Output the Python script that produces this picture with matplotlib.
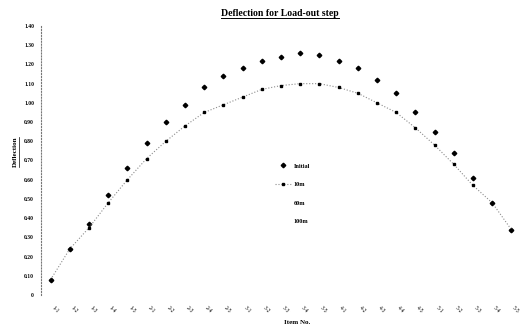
import numpy as np
import matplotlib
matplotlib.use("Agg")
import matplotlib.pyplot as plt
from matplotlib.lines import Line2D

# data
items = [f"{r}-{c}" for r in range(1, 6) for c in range(1, 6)]
initial = [0.08, 0.24, 0.37, 0.52, 0.66, 0.79, 0.90, 0.99, 1.08, 1.14, 1.18, 1.22, 1.24,
           1.26, 1.25, 1.22, 1.18, 1.12, 1.05, 0.95, 0.85, 0.74, 0.61, 0.48, 0.34]
ten_m = [0.08, 0.24, 0.35, 0.48, 0.60, 0.71, 0.80, 0.88, 0.95, 0.99, 1.03, 1.07, 1.09,
         1.10, 1.10, 1.08, 1.05, 1.00, 0.95, 0.87, 0.78, 0.68, 0.57, 0.48, 0.34]
yticks = np.arange(0, 1.41, 0.1)
ytick_labels = ["0"] + ["%.2f" % v for v in yticks[1:]]

plt.rcParams['font.family'] = ['Liberation Serif', 'DejaVu Serif']

fig = plt.figure(figsize=(5.25, 3.29), dpi=100)
ax = fig.add_axes([41/525, 1-295/329, 480/525, 269/329])

x = np.arange(len(items))
ax.plot(x, initial, linestyle='none', marker='D', ms=2.3, color='black', label='Initial')
ax.plot(x, ten_m, linestyle=':', lw=0.8, color='#8c8c8c', marker='s', ms=2.0,
        mfc='black', mec='black', label='10m')
# 60m / 100m series were printed in colours that vanished on the scan
ax.plot([], [], linestyle='none', label='60m')
ax.plot([], [], linestyle='none', label='100m')

ax.set_xlim(-0.5, len(items) - 0.5)
ax.set_ylim(0, 1.4)
ax.set_yticks(yticks)
ax.set_yticklabels(ytick_labels, fontsize=4, fontweight='bold')
ax.set_xticks(x)
ax.set_xticklabels(items, fontsize=4, rotation=-45, ha='left', va='top')
ax.tick_params(axis='y', length=0, pad=5)
ax.tick_params(axis='x', length=0, pad=7)

for s in ['top', 'right', 'bottom']:
    ax.spines[s].set_visible(False)
ax.spines['left'].set_linestyle(':')
ax.spines['left'].set_color('#777777')
ax.spines['left'].set_linewidth(0.8)

leg = ax.legend(loc='upper left', bbox_to_anchor=(272/525, 1-160/329),
                bbox_transform=fig.transFigure, frameon=False, fontsize=4.5,
                labelspacing=2.1, handlelength=2.6, handletextpad=0.4, borderpad=0)
for t in leg.get_texts():
    t.set_fontweight('bold')

title = fig.text(280/525, 1-13/329, "Deflection for Load-out step", ha='center', va='center',
                 fontsize=7, fontweight='bold')
ylab = fig.text(15/525, 1-152/329, "Deflection", rotation=90, ha='center', va='center',
                fontsize=5, fontweight='bold')
fig.text(297/525, 1-323/329, "Item No.", ha='center', va='center', fontsize=5, fontweight='bold')

# underline title and y label like the original
fig.canvas.draw()
r = fig.canvas.get_renderer()
inv = fig.transFigure.inverted()
bb = title.get_window_extent(r).transformed(inv)
fig.add_artist(Line2D([bb.x0, bb.x1], [bb.y0, bb.y0], color='black', lw=0.7))
bb = ylab.get_window_extent(r).transformed(inv)
fig.add_artist(Line2D([bb.x1 + 0.002, bb.x1 + 0.002], [bb.y0, bb.y1], color='black', lw=0.5))

fig.savefig("out.png", dpi=100)
